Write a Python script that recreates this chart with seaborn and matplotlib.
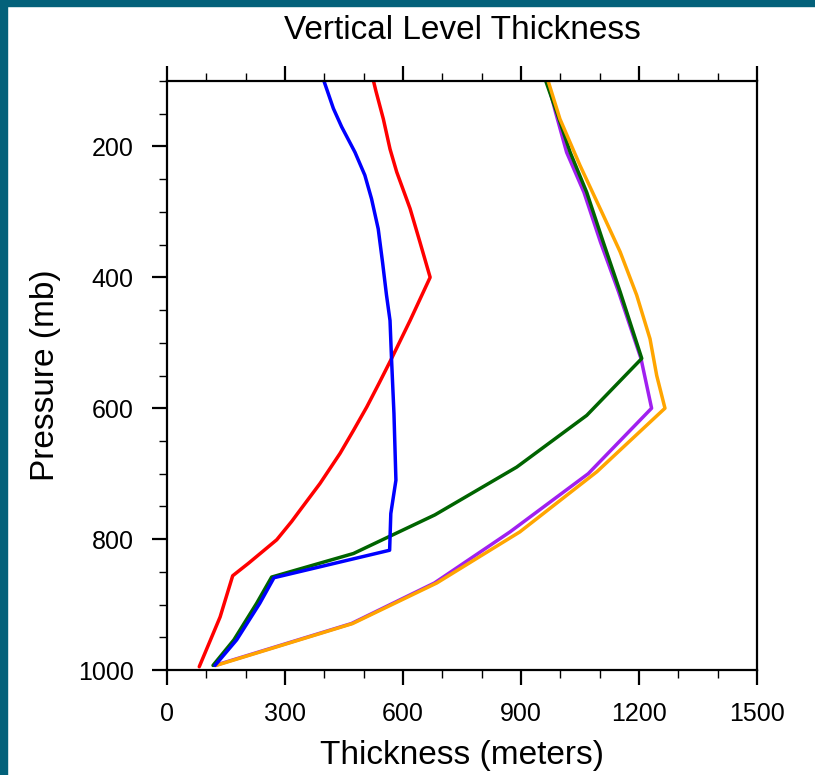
import numpy as np
import pandas as pd
import matplotlib
matplotlib.use("Agg")
import matplotlib.pyplot as plt
import seaborn as sns
from matplotlib.patches import Rectangle
from matplotlib.ticker import MultipleLocator

# thickness (m), top of the column first
red_p = [100, 115, 158, 204, 239, 295, 346, 400, 466, 524, 562, 598, 634, 669, 715, 756, 773, 801, 837, 856, 919, 995]
red_t = [525, 531, 550, 567, 584, 618, 643, 669, 618, 571, 539, 508, 474, 440, 389, 338, 317, 279, 207, 167, 135, 82]

blue_p = [100, 142, 170, 209, 244, 280, 326, 377, 427, 466, 527, 608, 710, 761, 817, 859, 898, 954, 993]
blue_t = [399, 423, 444, 478, 503, 520, 537, 548, 558, 567, 571, 577, 582, 569, 566, 272, 236, 177, 122]

green_p = [100, 148, 209, 270, 346, 422, 524, 611, 690, 763, 822, 858, 898, 954, 993]
green_t = [963, 991, 1025, 1067, 1109, 1152, 1207, 1067, 889, 681, 474, 266, 228, 170, 117]

purple_p = [100, 148, 209, 270, 346, 422, 524, 600, 700, 789, 867, 929, 993]
purple_t = [967, 988, 1016, 1060, 1102, 1148, 1205, 1232, 1071, 872, 680, 469, 122]

orange_p = [100, 158, 229, 305, 361, 427, 494, 550, 600, 697, 789, 867, 929, 993]
orange_t = [969, 999, 1050, 1109, 1152, 1194, 1228, 1245, 1266, 1093, 897, 686, 472, 125]

series = {
    "red": (red_p, red_t),
    "purple": (purple_p, purple_t),
    "green": (green_p, green_t),
    "orange": (orange_p, orange_t),
    "blue": (blue_p, blue_t),
}
colors = {"red": "#ff0000", "purple": "#a020f0", "green": "#006400",
          "orange": "#ffa500", "blue": "#0000ff"}

rows = []
for name, (p, t) in series.items():
    for pi, ti in zip(p, t):
        rows.append({"series": name, "pressure": pi, "thickness": ti})
df = pd.DataFrame(rows)

sns.set_style("ticks")
plt.rcParams["font.family"] = ["Liberation Sans", "DejaVu Sans"]
plt.rcParams.update({"text.color": "black", "axes.labelcolor": "black",
                     "xtick.color": "black", "ytick.color": "black",
                     "axes.edgecolor": "black"})

fig = plt.figure(figsize=(8.15, 7.75), dpi=100)
ax = fig.add_axes([167 / 815, 1 - 670 / 775, 590 / 815, 589 / 775])

sns.lineplot(data=df, x="thickness", y="pressure", hue="series",
             palette=colors, sort=False, estimator=None, linewidth=2.5,
             legend=False, ax=ax)

ax.set_xlim(0, 1500)
ax.set_ylim(1000, 100)
ax.xaxis.set_major_locator(MultipleLocator(300))
ax.xaxis.set_minor_locator(MultipleLocator(100))
ax.set_yticks([200, 400, 600, 800, 1000])
ax.yaxis.set_minor_locator(MultipleLocator(50))

ax.tick_params(axis="x", which="both", top=True, bottom=True, direction="out",
               labelsize=18, pad=12)
ax.tick_params(axis="y", which="both", left=True, right=False, direction="out",
               labelsize=18, pad=13)
ax.tick_params(which="major", length=11, width=1.6)
ax.tick_params(which="minor", length=6, width=1.0)

for s in ax.spines.values():
    s.set_linewidth(1.6)
ax.spines["left"].set_linestyle((0, (3, 1)))

ax.set_title("Vertical Level Thickness", fontsize=24, pad=30)
ax.set_xlabel("Thickness (meters)", fontsize=24, labelpad=10)
ax.set_ylabel("Pressure (mb)", fontsize=24, labelpad=12)

# teal frame visible along the left and top edges
teal = "#03617a"
fig.add_artist(Rectangle((0, 0), 7 / 815, 1, transform=fig.transFigure,
                         color=teal, zorder=10))
fig.add_artist(Rectangle((0, 1 - 6 / 775), 1, 6 / 775, transform=fig.transFigure,
                         color=teal, zorder=10))

fig.savefig("out.png", dpi=100)
